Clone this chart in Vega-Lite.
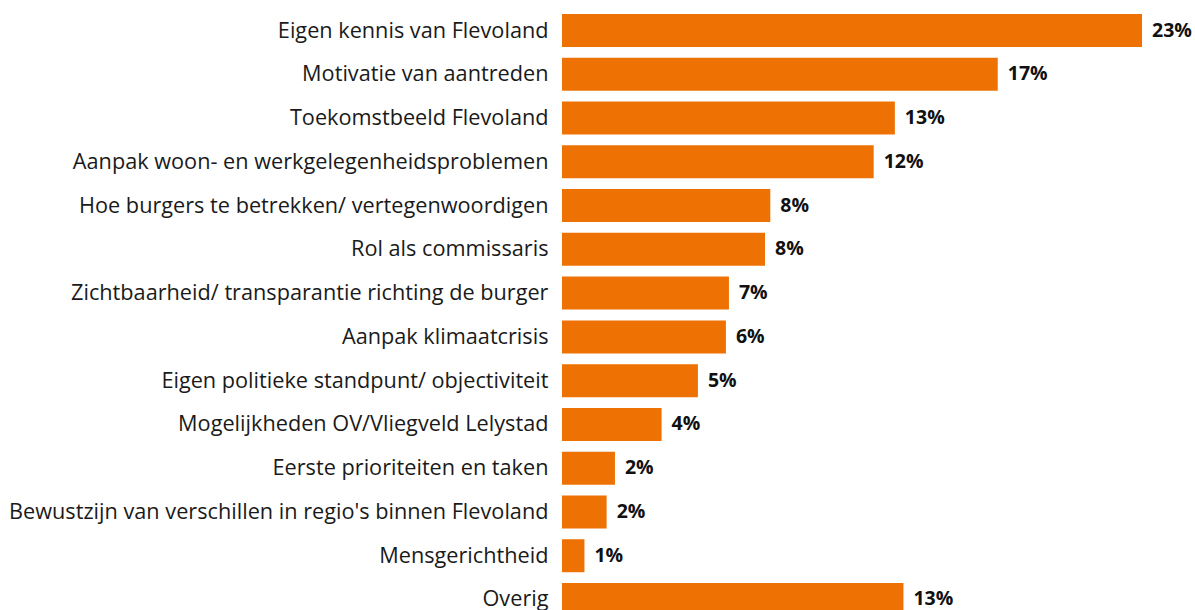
{
  "$schema": "https://vega.github.io/schema/vega-lite/v6.json",
  "autosize": "none",
  "padding": {"left": 562, "top": 0, "right": 53, "bottom": 0},
  "width": 580,
  "height": 630,
  "background": "white",
  "data": {"values": [
    {"cat": "Eigen kennis van Flevoland", "value": 23.0, "label": "23%"},
    {"cat": "Motivatie van aantreden", "value": 17.28, "label": "17%"},
    {"cat": "Toekomstbeeld Flevoland", "value": 13.2, "label": "13%"},
    {"cat": "Aanpak woon- en werkgelegenheidsproblemen", "value": 12.36, "label": "12%"},
    {"cat": "Hoe burgers te betrekken/ vertegenwoordigen", "value": 8.26, "label": "8%"},
    {"cat": "Rol als commissaris", "value": 8.05, "label": "8%"},
    {"cat": "Zichtbaarheid/ transparantie richting de burger", "value": 6.62, "label": "7%"},
    {"cat": "Aanpak klimaatcrisis", "value": 6.5, "label": "6%"},
    {"cat": "Eigen politieke standpunt/ objectiviteit", "value": 5.39, "label": "5%"},
    {"cat": "Mogelijkheden OV/Vliegveld Lelystad", "value": 3.95, "label": "4%"},
    {"cat": "Eerste prioriteiten en taken", "value": 2.1, "label": "2%"},
    {"cat": "Bewustzijn van verschillen in regio's binnen Flevoland", "value": 1.77, "label": "2%"},
    {"cat": "Mensgerichtheid", "value": 0.89, "label": "1%"},
    {"cat": "Overig", "value": 13.54, "label": "13%"}
  ]},
  "encoding": {
    "y": {
      "field": "cat", "type": "nominal", "sort": null, "title": null,
      "scale": {"paddingInner": 0.246, "paddingOuter": 0.32},
      "axis": {"ticks": false, "domain": false, "labelPadding": 14, "labelFontSize": 21.7, "labelFont": "Open Sans", "labelColor": "#1a1a1a", "labelLimit": 600}
    },
    "x": {"field": "value", "type": "quantitative", "scale": {"domain": [0, 23], "nice": false, "zero": true}, "axis": null}
  },
  "layer": [
    {"mark": {"type": "bar", "color": "#EE7203"}},
    {"mark": {"type": "text", "align": "left", "baseline": "middle", "dx": 10, "fontSize": 19.5, "fontWeight": "bold", "font": "Open Sans", "color": "#111111"},
     "encoding": {"text": {"field": "label"}}}
  ],
  "config": {"view": {"stroke": null}}
}
